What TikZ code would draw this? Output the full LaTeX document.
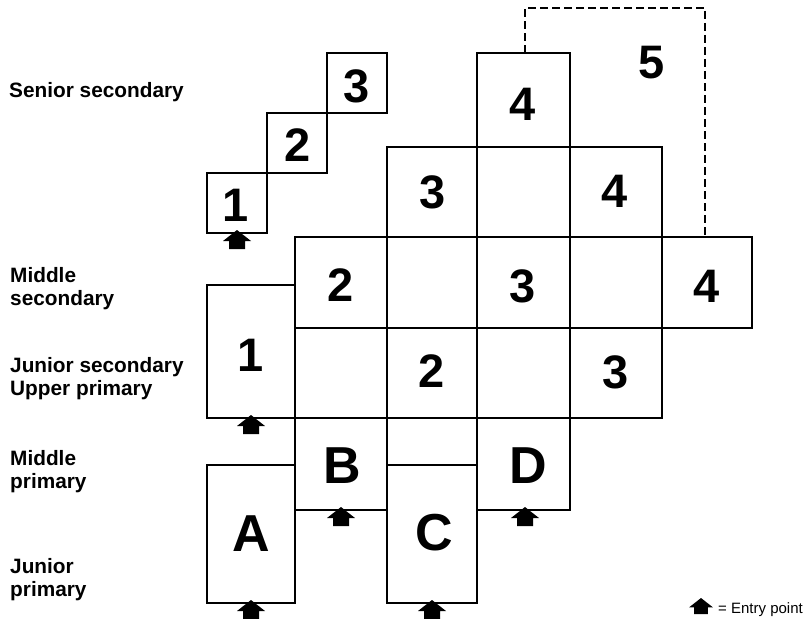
\documentclass[tikz,border=0pt]{standalone}
\usepackage{fontspec}
\setmainfont{Liberation Sans}
\usepackage{tikz}

\begin{document}
\begin{tikzpicture}[
  x=1pt,y=-1pt,
  box/.style={draw=black,line width=2.3pt},
  future/.style={draw=black,line width=2.1pt,dash pattern=on 8pt off 4pt},
  level/.style={font=\bfseries\fontsize{20.8}{23}\selectfont,align=left,
                anchor=north west,inner sep=0pt},
  num/.style={font=\bfseries\fontsize{47}{47}\selectfont,inner sep=0pt},
  lett/.style={font=\bfseries\fontsize{52}{52}\selectfont,inner sep=0pt},
  entrypt/.pic={\fill (0,0)--(14,11)--(8,11)--(8,19)--(-8,19)--(-8,11)--(-14,11)--cycle;}
]
\useasboundingbox (0,0) rectangle (810,618);

\node[level] (lsen) at (9,82) {Senior secondary};
\node[level] (lmsec) at (10,267.5) {Middle\\secondary};
\node[level] (ljsec) at (10,357.5) {Junior secondary\\Upper primary};
\node[level] (lmpri) at (10,450) {Middle\\primary};
\node[level] (ljpri) at (10,558.5) {Junior\\primary};

\draw[box] (207,173) rectangle (267,233);
\draw[box] (267,113) rectangle (327,173);
\draw[box] (327,53) rectangle (387,113);
\node[num] (st1) at (236,205) {1};
\node[num] (st2) at (298,145) {2};
\node[num] (st3) at (357,86) {3};

\draw[box] (477,53) rectangle (570,147);
\draw[box] (387,147) rectangle (662,237);
\draw[box] (477,147)--(477,237) (570,147)--(570,237);
\node[num] (ss4a) at (523,104) {4};
\node[num] (ss3) at (433,192) {3};
\node[num] (ss4b) at (615,191) {4};

\draw[future] (525,53)--(525,8)--(705,8)--(705,237);
\node[num] (five) at (652,63) {5};

\draw[box] (295,237) rectangle (752,328);
\draw[box] (295,328) rectangle (662,418);
\draw[box] (387,237)--(387,418) (477,237)--(477,418) (570,237)--(570,418)
  (662,237)--(662,328);
\draw[box] (207,285) rectangle (295,418);
\node[num] (ms2) at (341,285) {2};
\node[num] (ms3) at (523,286) {3};
\node[num] (ms4) at (707,286) {4};
\node[num] (js1) at (251,355) {1};
\node[num] (js2) at (432,371) {2};
\node[num] (js3) at (616,372) {3};

\draw[box] (295,418) rectangle (387,510);
\draw[box] (387,418) rectangle (477,603);
\draw[box] (387,465)--(477,465);
\draw[box] (477,418) rectangle (570,510);
\draw[box] (207,465) rectangle (295,603);
\node[lett] (B) at (342,466) {B};
\node[lett] (D) at (528,466) {D};
\node[lett] (A) at (251,534) {A};
\node[lett] (C) at (434,533) {C};

\pic at (237,230) {entrypt};
\pic at (251,415) {entrypt};
\pic at (341,507) {entrypt};
\pic at (525,507) {entrypt};
\pic at (251,600) {entrypt};
\pic at (432,600) {entrypt};

\pic[scale=0.85] at (701,598) {entrypt};
\node[font=\fontsize{15}{17}\selectfont,anchor=base west,inner sep=0pt]
  (key) at (718,613) {= Entry point};
\end{tikzpicture}
\end{document}
